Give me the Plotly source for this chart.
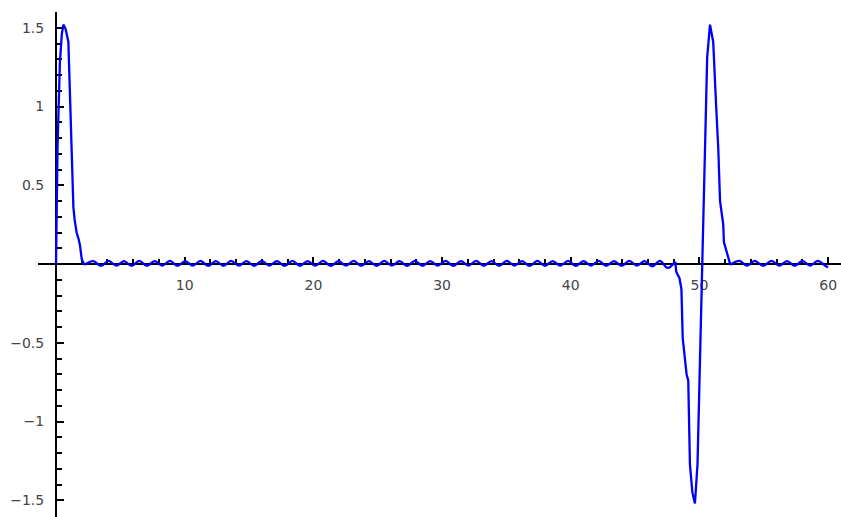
import plotly.graph_objects as go

# ---- data ----
pulse1_x = [0.0, 0.12, 0.3, 0.45, 0.57, 0.75, 0.96, 1.15, 1.35, 1.45, 1.6, 1.75, 1.86, 2.0, 2.2]
pulse1_y = [0.0, 0.75, 1.28, 1.46, 1.52, 1.49, 1.41, 0.95, 0.36, 0.28, 0.2, 0.16, 0.12, 0.03, -0.005]

wave1_x = [2.9, 3.5, 4.09, 4.69, 5.28, 5.87, 6.47, 7.06, 7.66, 8.25, 8.85, 9.44,
           10.04, 10.63, 11.23, 11.82, 12.42, 13.01, 13.61, 14.2, 14.8, 15.39, 15.99,
           16.58, 17.18, 17.77, 18.37, 18.96, 19.56, 20.15, 20.75, 21.34, 21.94, 22.53,
           23.13, 23.72, 24.32, 24.91, 25.51, 26.1, 26.7, 27.29, 27.89, 28.48, 29.08,
           29.67, 30.27, 30.86, 31.46, 32.05, 32.65, 33.24, 33.84, 34.43, 35.03, 35.62,
           36.22, 36.81, 37.41, 38.0, 38.6, 39.19, 39.79, 40.38, 40.98, 41.57, 42.17,
           42.76, 43.36, 43.95, 44.55, 45.14, 45.74, 46.33, 46.93, 47.52, 48.12]
wave1_y = [0.018, -0.012, 0.02, -0.01, 0.019, -0.012, 0.02, -0.011, 0.018, -0.01, 0.02, -0.012,
           0.019, -0.01, 0.02, -0.012, 0.018, -0.011, 0.02, -0.01, 0.019, -0.012, 0.02,
           -0.01, 0.018, -0.012, 0.02, -0.011, 0.019, -0.01, 0.02, -0.012, 0.018, -0.01,
           0.02, -0.011, 0.019, -0.012, 0.02, -0.01, 0.018, -0.012, 0.02, -0.011, 0.019,
           -0.01, 0.02, -0.012, 0.018, -0.01, 0.02, -0.011, 0.019, -0.012, 0.02, -0.01,
           0.018, -0.012, 0.02, -0.011, 0.019, -0.01, 0.02, -0.012, 0.018, -0.01, 0.02,
           -0.011, 0.019, -0.012, 0.02, -0.01, 0.018, -0.015, 0.02, -0.025, 0.015]

pulse2_x = [48.2, 48.45, 48.6, 48.7, 49.0, 49.13, 49.26, 49.45, 49.65, 49.85, 50.5, 50.6,
            50.82, 51.07, 51.3, 51.46, 51.6, 51.85, 51.9, 52.2, 52.4]
pulse2_y = [-0.05, -0.09, -0.16, -0.47, -0.7, -0.74, -1.27, -1.45, -1.52, -1.27, 1.07, 1.31,
            1.52, 1.41, 1.0, 0.74, 0.4, 0.25, 0.14, 0.06, -0.005]

wave2_x = [53.1, 53.7, 54.3, 54.95, 55.6, 56.2, 56.8, 57.4, 58.0, 58.6, 59.2, 59.8, 60.0]
wave2_y = [0.02, -0.01, 0.02, -0.012, 0.02, -0.01, 0.019, -0.011, 0.02, -0.01, 0.02, -0.012, -0.02]

x_ticks = [10, 20, 30, 40, 50, 60]
x_labels = ["10", "20", "30", "40", "50", "60"]
y_ticks = [-1.5, -1.0, -0.5, 0.5, 1.0, 1.5]
y_labels = ["\u22121.5", "\u22121", "\u22120.5", "0.5", "1", "1.5"]

x_range = [-1.4, 61.0]
y_range = [-1.606, 1.6]

line_style = dict(color="#0000ff", width=2.3)

fig = go.Figure()
# pulses drawn as straight segments
fig.add_trace(go.Scatter(x=pulse1_x, y=pulse1_y, mode="lines",
                         line=line_style, hoverinfo="skip"))
fig.add_trace(go.Scatter(x=[wave1_x[-1]] + pulse2_x, y=[wave1_y[-1]] + pulse2_y, mode="lines",
                         line=line_style, hoverinfo="skip"))
# small ripples drawn smoothed
fig.add_trace(go.Scatter(x=[pulse1_x[-1]] + wave1_x, y=[pulse1_y[-1]] + wave1_y, mode="lines",
                         line=dict(line_style, shape="spline", smoothing=1.0), hoverinfo="skip"))
fig.add_trace(go.Scatter(x=[pulse2_x[-1]] + wave2_x, y=[pulse2_y[-1]] + wave2_y, mode="lines",
                         line=dict(line_style, shape="spline", smoothing=1.0), hoverinfo="skip"))

xpos = (0 - x_range[0]) / (x_range[1] - x_range[0])
ypos = (0 - y_range[0]) / (y_range[1] - y_range[0])

tickfont = dict(family="DejaVu Sans", size=14, color="#444444")

fig.update_layout(
    width=841, height=517,
    margin=dict(l=38, r=0, t=12, b=0, autoexpand=False),
    paper_bgcolor="white", plot_bgcolor="white",
    showlegend=False,
    xaxis=dict(range=x_range, anchor="free", position=ypos, automargin=False,
               showgrid=False, zeroline=False, showline=True, linecolor="black", linewidth=2,
               tickmode="array", tickvals=x_ticks, ticktext=x_labels,
               ticks="inside", ticklen=6, tickwidth=2, tickcolor="black",
               ticklabelstandoff=8, tickfont=tickfont, layer="below traces",
               minor=dict(tickmode="linear", tick0=0, dtick=2, ticks="inside",
                          ticklen=4, tickwidth=2, tickcolor="black", showgrid=False)),
    yaxis=dict(range=y_range, anchor="free", position=xpos, automargin=False,
               showgrid=False, zeroline=False, showline=True, linecolor="black", linewidth=2,
               tickmode="array", tickvals=y_ticks, ticktext=y_labels,
               ticks="inside", ticklen=7, tickwidth=2, tickcolor="black",
               ticklabelstandoff=8, tickfont=tickfont, layer="below traces",
               minor=dict(tickmode="linear", tick0=0, dtick=0.1, ticks="inside",
                          ticklen=5, tickwidth=2, tickcolor="black", showgrid=False)),
)

fig.write_html("out.html", config={"displayModeBar": False, "staticPlot": True},
               post_script="document.body.style.margin='0';")
